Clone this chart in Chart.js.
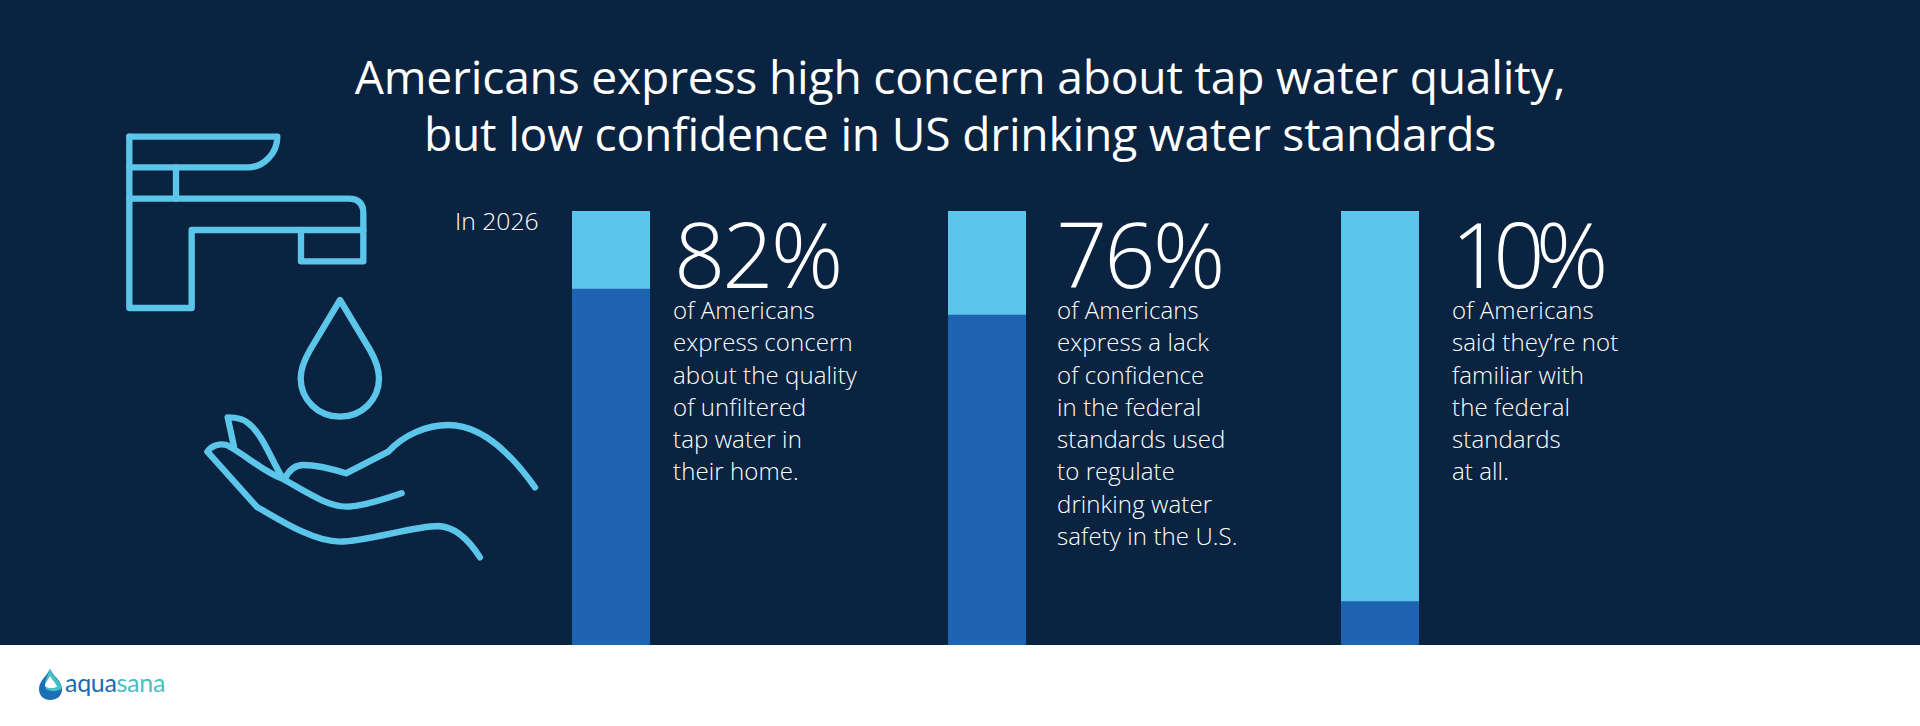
<!DOCTYPE html>
<html>
<head>
<meta charset="utf-8">
<title>Tap water concern</title>
<script src="https://cdn.jsdelivr.net/npm/chart.js@4"></script>
<style>
    html, body { margin: 0; padding: 0; background: #fff; overflow: hidden; }
    body { width: 1920px; height: 726px; position: relative; font-family: "Open Sans", sans-serif; color: #fff; }
    #panel { position: absolute; left: 0; top: 0; width: 1920px; height: 645px; background: #0a2340; }
    #title { position: absolute; left: 0; width: 1920px; top: 49px; text-align: center; font-size: 46.2px; line-height: 56.5px; font-weight: 400; letter-spacing: -0.2px; }
    #year { position: absolute; left: 455px; top: 205px; font-size: 24.7px; line-height: 32px; font-weight: 300; }
    .bar { position: absolute; top: 211px; width: 78px; height: 434px; }
    .big { position: absolute; top: 213px; font-size: 90px; line-height: 80px; font-weight: 300; letter-spacing: -3px; }
    .body { position: absolute; top: 294px; font-size: 24px; line-height: 32.3px; font-weight: 300; letter-spacing: 0.1px; white-space: pre; }
    #icon { position: absolute; left: 80px; top: 110px; }
    #logo { position: absolute; left: 37px; top: 668px; }
    #logotext { position: absolute; left: 65px; top: 664px; font-size: 25px; line-height: 36px; font-family: Lato, sans-serif; letter-spacing: -0.3px; color: #1c6bb0; }
    #logotext span { color: #46bfc6; }
</style>
</head>
<body>
<div id="panel"></div>
<div id="title">Americans express high concern about tap water quality,<br>but low confidence in US drinking water standards</div>
<div id="year">In 2026</div>

<svg id="icon" width="500" height="480" viewBox="0 0 1500 1440" fill="none" stroke="#5bc6e9" stroke-width="19" stroke-linejoin="round" stroke-linecap="round">
    <path d="M148,80 H592 C592,130 550,172 505,172 H148"/>
    <path d="M148,80 V594 H335 V360 H850"/>
    <path d="M148,266 H805 Q850,266 850,310 V454 H663 V360"/>
    <path d="M288,172 V266"/>
    <path d="M780,570 L870,720 C890,755 897,780 897,805 C897,870 845,920 780,920 C715,920 662,870 662,805 C662,780 670,755 690,720 Z"/>
    <path d="M1365,1132 C1300,1040 1210,945 1105,945 C1040,945 970,975 925,1025 L798,1090 C750,1075 710,1065 670,1065 C640,1065 625,1085 615,1105"/>
    <path d="M605,1100 C570,1040 545,970 505,940 C490,925 465,922 443,922 L462,1010"/>
    <path d="M1200,1342 C1170,1295 1130,1250 1075,1248 C1000,1248 860,1295 780,1295 C700,1295 600,1230 530,1190 L382,1025 C395,1005 420,1000 440,1005 C490,1030 550,1085 605,1105 C670,1140 740,1190 800,1190 C850,1190 920,1165 965,1150"/>
</svg>

<canvas class="bar" id="bar0" width="78" height="434" style="left:572px"></canvas>
<canvas class="bar" id="bar1" width="78" height="434" style="left:948px"></canvas>
<canvas class="bar" id="bar2" width="78" height="434" style="left:1341px"></canvas>

<div class="big" id="big0" style="left:674px"></div>
<div class="big" id="big1" style="left:1056px"></div>
<div class="big" id="big2" style="left:1451px; letter-spacing:-9px"></div>
<div class="body" id="text0" style="left:673px"></div>
<div class="body" id="text1" style="left:1057px"></div>
<div class="body" id="text2" style="left:1452px"></div>

<svg id="logo" width="28" height="34" viewBox="0 0 28 34">
    <path d="M13,1 C9,9 2,13 2,21 C2,28 7,32 13,32 C20,32 25,28 25,21 C25,13 17,9 13,1 Z" fill="#1c6fb5"/>
    <path d="M13,1 C15,7 24,14 25,20 C21,24 14,24 9,21 C6,15 11,7 13,1 Z" fill="#46bfc6"/>
    <path d="M13,8 C11,12 8,15 8,18 C11,21 17,20 20,19 C19,15 15,12 13,8 Z" fill="#fff"/>
</svg>
<div id="logotext">aqua<span>sana</span></div>

<script>
const categories = ["Concern about tap water", "Lack of confidence", "Not familiar"];
const shareValues = [82, 76, 10];
const restValues = [18, 24, 90];
const bigLabels = ["82%", "76%", "10%"];

const textLines = [
    ["of Americans", "express concern", "about the quality", "of unfiltered", "tap water in", "their home."],
    ["of Americans", "express a lack", "of confidence", "in the federal", "standards used", "to regulate", "drinking water", "safety in the U.S."],
    ["of Americans", "said they\u2019re not", "familiar with", "the federal", "standards", "at all."]
];

function createBar(index) {
    const ctx = document.getElementById("bar" + index);

    new Chart(ctx, {
        type: "bar",

        data: {
            labels: [categories[index]],

            datasets: [{
                label: "Share",
                data: [shareValues[index]],
                backgroundColor: "#1d63af",
                borderWidth: 0
            }, {
                label: "Rest",
                data: [restValues[index]],
                backgroundColor: "#5bc6e9",
                borderWidth: 0
            }]
        },

        options: {
            responsive: false,
            animation: false,
            layout: { padding: 0 },
            datasets: {
                bar: { barPercentage: 1, categoryPercentage: 1 }
            },
            plugins: {
                legend: { display: false },
                tooltip: { enabled: false }
            },
            scales: {
                x: { display: false, stacked: true },
                y: { display: false, stacked: true, min: 0, max: 100 }
            }
        }
    });
}

categories.forEach((name, i) => {
    createBar(i);
    document.getElementById("big" + i).innerText = bigLabels[i];
    document.getElementById("text" + i).innerText = textLines[i].join("\n");
});
</script>
</body>
</html>
